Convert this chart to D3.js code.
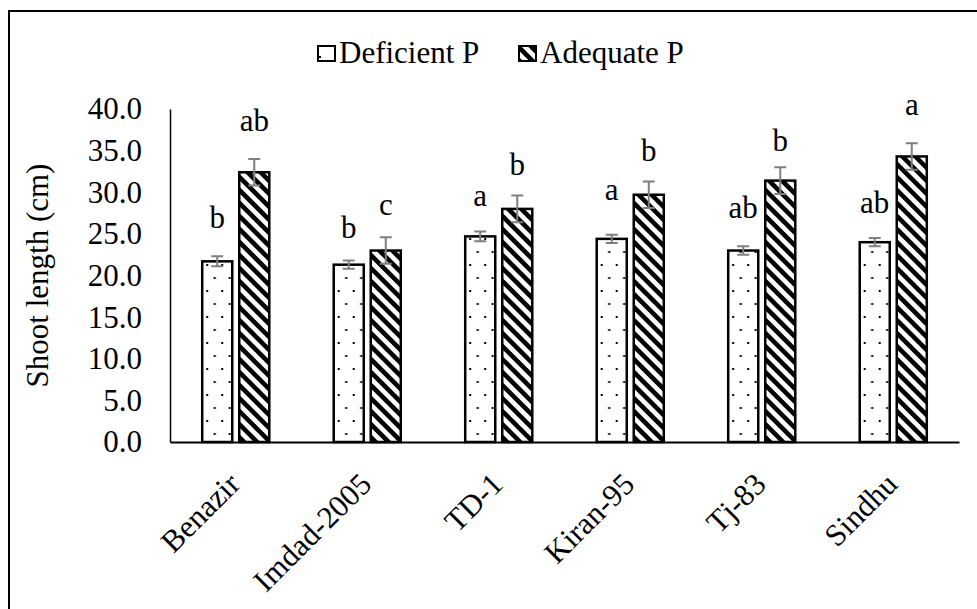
<!DOCTYPE html>
<html>
<head>
<meta charset="utf-8">
<script src="https://cdn.jsdelivr.net/npm/d3@7"></script>
<style>
  html, body { margin: 0; padding: 0; background: #fff; }
  svg { display: block; }
</style>
</head>
<body>
<svg id="chart" width="977" height="609"></svg>
<script>
// ---- data ----
const categories = ["Benazir", "Imdad-2005", "TD-1", "Kiran-95", "Tj-83", "Sindhu"];
const seriesNames = ["Deficient P", "Adequate P"];
const deficientP = [21.7, 21.3, 24.7, 24.4, 23.0, 24.0];
const adequateP = [32.4, 23.0, 28.0, 29.7, 31.4, 34.3];
const deficientSE = [0.6, 0.5, 0.6, 0.5, 0.5, 0.5];
const adequateSE = [1.6, 1.6, 1.6, 1.6, 1.6, 1.6];
const deficientLetters = ["b", "b", "a", "a", "ab", "ab"];
const adequateLetters = ["ab", "c", "b", "b", "b", "a"];
const deficientLetterY = [25.7, 24.5, 28.3, 29.1, 26.9, 27.5];
const adequateLetterY = [37.3, 27.3, 32.1, 33.7, 34.9, 39.3];
const yTicks = [0, 5, 10, 15, 20, 25, 30, 35, 40];
const yTitle = "Shoot length (cm)";

const series = [
  { name: seriesNames[0], values: deficientP, se: deficientSE, letters: deficientLetters, letterY: deficientLetterY, fill: "url(#dots)" },
  { name: seriesNames[1], values: adequateP, se: adequateSE, letters: adequateLetters, letterY: adequateLetterY, fill: "url(#stripes)" }
];

const FONT = "'Liberation Serif', 'Times New Roman', serif";
const FS = 31;
const svg = d3.select("#chart").attr("font-family", FONT);

// ---- patterns ----
const defs = svg.append("defs");
const dots = defs.append("pattern").attr("id", "dots").attr("patternUnits", "userSpaceOnUse")
  .attr("width", 15).attr("height", 26);
dots.append("rect").attr("width", 15).attr("height", 26).attr("fill", "#fff");
dots.append("rect").attr("x", 4).attr("y", 4).attr("width", 2).attr("height", 2).attr("fill", "#000");
dots.append("rect").attr("x", 11.5).attr("y", 17).attr("width", 2).attr("height", 2).attr("fill", "#000");

const stripes = defs.append("pattern").attr("id", "stripes").attr("patternUnits", "userSpaceOnUse")
  .attr("width", 9.2).attr("height", 9.2).attr("patternTransform", "rotate(-45)");
stripes.append("rect").attr("width", 9.2).attr("height", 9.2).attr("fill", "#fff");
stripes.append("rect").attr("width", 4.6).attr("height", 9.2).attr("fill", "#000");

// ---- outer border ----
svg.append("rect").attr("x", 9).attr("y", 11).attr("width", 1000).attr("height", 700)
  .attr("fill", "none").attr("stroke", "#000").attr("stroke-width", 2);

// ---- scales ----
const plot = { left: 170, right: 959, top: 109, bottom: 442 };
const x0 = d3.scaleBand().domain(categories).range([plot.left, plot.right]).paddingInner(0.49).paddingOuter(0.245);
const x1 = d3.scaleBand().domain(seriesNames).range([0, x0.bandwidth()]).paddingInner(0.189).paddingOuter(0);
const y = d3.scaleLinear().domain([0, 40]).range([plot.bottom, plot.top]);

// ---- y axis ----
const yAxis = svg.append("g").attr("transform", `translate(${plot.left},0)`)
  .call(d3.axisLeft(y).tickValues(yTicks).tickSize(0).tickPadding(28).tickFormat(d3.format(".1f")));
yAxis.attr("font-family", FONT).attr("font-size", FS);
yAxis.select(".domain").attr("stroke", "#000").attr("stroke-width", 1.5);
yAxis.selectAll("text").attr("font-size", FS).attr("font-family", FONT)
  .attr("fill", "#000").attr("dy", "0.32em");

svg.append("text").attr("transform", `translate(48,${(plot.top + plot.bottom) / 2}) rotate(-90)`)
  .attr("text-anchor", "middle").attr("font-size", FS).attr("font-family", FONT).text(yTitle);

// ---- bars ----
const groups = svg.append("g").selectAll("g").data(categories).join("g")
  .attr("transform", d => `translate(${x0(d)},0)`);

series.forEach((s) => {
  groups.append("rect")
    .attr("x", x1(s.name))
    .attr("y", (d, i) => y(s.values[i]))
    .attr("width", x1.bandwidth())
    .attr("height", (d, i) => y(0) - y(s.values[i]))
    .attr("fill", s.fill)
    .attr("stroke", "#000").attr("stroke-width", 2.5);
});

// ---- x axis ----
const xAxis = svg.append("g").attr("transform", `translate(0,${plot.bottom})`)
  .call(d3.axisBottom(x0).tickSize(0).tickFormat(""));
xAxis.select(".domain").attr("stroke", "#000").attr("stroke-width", 2);
xAxis.selectAll(".tick text").remove();

svg.append("g").selectAll("text").data(categories).join("text")
  .attr("transform", d => `translate(${x0(d) + x0.bandwidth() / 2 + 6},${plot.bottom + 44}) rotate(-45)`)
  .attr("text-anchor", "end").attr("font-size", FS).attr("font-family", FONT).text(d => d);

// ---- error bars and letters ----
series.forEach((s) => {
  const cx = (d) => x0(d) + x1(s.name) + x1.bandwidth() / 2;
  const eb = svg.append("g").attr("stroke", "#7f7f7f").attr("stroke-width", 2).attr("fill", "none");
  eb.selectAll("path").data(categories).join("path")
    .attr("d", (d, i) => {
      const c = cx(d), t = y(s.values[i] + s.se[i]), b = y(s.values[i] - s.se[i]);
      return `M${c},${t}V${b}M${c - 6},${t}H${c + 6}M${c - 6},${b}H${c + 6}`;
    });
  svg.append("g").selectAll("text").data(categories).join("text")
    .attr("x", d => cx(d)).attr("y", (d, i) => y(s.letterY[i]))
    .attr("text-anchor", "middle").attr("font-size", FS).attr("font-family", FONT)
    .text((d, i) => s.letters[i]);
});

// ---- legend ----
const legend = svg.append("g");
const legendX = [317, 518];
series.forEach((s, i) => {
  legend.append("rect").attr("x", legendX[i] + 1).attr("y", 46).attr("width", 17).attr("height", 15)
    .attr("fill", s.fill).attr("stroke", "#000").attr("stroke-width", 2);
  legend.append("text").attr("x", legendX[i] + 22).attr("y", 63).attr("font-size", FS)
    .attr("font-family", FONT).text(s.name);
});
</script>
</body>
</html>
